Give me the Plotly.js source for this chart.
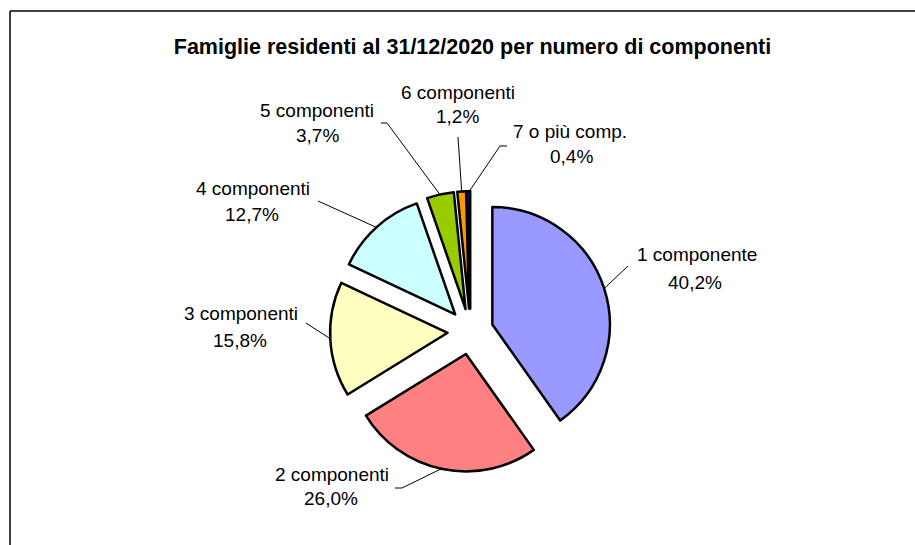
<!DOCTYPE html>
<html>
<head>
<meta charset="utf-8">
<script src="https://cdn.plot.ly/plotly-3.0.1.min.js"></script>
<style>html,body{margin:0;padding:0;background:#fff;}#chart{width:915px;height:545px;}</style>
</head>
<body>
<div id="chart"></div>
<script>
// ---- data ----
const categories = ['1 componente', '2 componenti', '3 componenti', '4 componenti', '5 componenti', '6 componenti', '7 o più comp.'];
const shares = [40.2, 26.0, 15.8, 12.7, 3.7, 1.2, 0.4];
const chartTitle = 'Famiglie residenti al 31/12/2020 per numero di componenti';

// ---- styling / layout constants ----
const W = 915, H = 545;
const sliceColors = ['#9999FF', '#FF8080', '#FFFFC0', '#CCFFFF', '#99CC00', '#FF9900', '#0066CC'];
const pieCx = 470.5, pieCy = 331.5, pieR = 117.5, pullFrac = 0.195;
const half = pieR * (1 + pullFrac);
const dom = {
  x: [(pieCx - half) / W, (pieCx + half) / W],
  y: [1 - (pieCy + half) / H, 1 - (pieCy - half) / H]
};
// label text centres (pixels): [name line, percent line]
const namePos = [[697, 254], [332, 474], [241, 313], [253, 188], [317, 110], [458, 92], [570, 131]];
const pctPos  = [[695, 282], [331, 498], [240, 340], [252, 214], [317, 135], [458, 117], [571, 157]];
// leader line elbows (pixels) after the slice point
const leaderTail = [
  [[628, 266]],
  [[402, 488], [395, 488]],
  [[306, 323]],
  [[318, 201]],
  [[387, 123], [381, 123]],
  [[458, 137]],
  [[500, 146], [507, 146]]
];

const px = x => x / W;
const py = y => 1 - y / H;
const fmtPct = v => v.toFixed(1).replace('.', ',') + '%';

const total = shares.reduce((a, b) => a + b, 0);
const annotations = [];
const shapes = [];
const labelFont = {family: 'Liberation Sans, Arial, sans-serif', size: 19, color: '#000'};
let cum = 0;
shares.forEach((v, i) => {
  const mid = (cum + v / 2) / total * 2 * Math.PI;
  cum += v;
  const dist = pieR * (1 + pullFrac) - 1;
  const sx = pieCx + dist * Math.sin(mid);
  const sy = pieCy - dist * Math.cos(mid);
  let path = 'M ' + px(sx) + ' ' + py(sy);
  leaderTail[i].forEach(p => { path += ' L ' + px(p[0]) + ' ' + py(p[1]); });
  shapes.push({type: 'path', xref: 'paper', yref: 'paper', path: path, line: {color: '#000', width: 1}});
  annotations.push({xref: 'paper', yref: 'paper', x: px(namePos[i][0]), y: py(namePos[i][1]),
    xanchor: 'center', yanchor: 'middle', showarrow: false, text: categories[i], font: labelFont});
  annotations.push({xref: 'paper', yref: 'paper', x: px(pctPos[i][0]), y: py(pctPos[i][1]),
    xanchor: 'center', yanchor: 'middle', showarrow: false, text: fmtPct(v), font: labelFont});
});

// frame (top and left edges visible)
shapes.push({type: 'line', xref: 'paper', yref: 'paper', x0: px(10), y0: py(11), x1: px(915), y1: py(11), line: {color: '#000', width: 1.5}});
shapes.push({type: 'line', xref: 'paper', yref: 'paper', x0: px(10), y0: py(11), x1: px(10), y1: py(545), line: {color: '#000', width: 1.5}});

const trace = {
  type: 'pie',
  labels: categories,
  values: shares,
  sort: false,
  direction: 'clockwise',
  rotation: 0,
  pull: shares.map(() => pullFrac),
  textinfo: 'none',
  hoverinfo: 'label+percent',
  showlegend: false,
  domain: dom,
  marker: {colors: sliceColors, line: {color: '#000', width: 2.5}}
};

const layout = {
  width: W, height: H,
  margin: {l: 0, r: 0, t: 0, b: 0},
  paper_bgcolor: '#fff',
  plot_bgcolor: '#fff',
  showlegend: false,
  title: {text: '<b>' + chartTitle + '</b>', x: 472.5 / W, y: 1 - 46 / H, xanchor: 'center', yanchor: 'middle',
    xref: 'paper', yref: 'container',
    font: {family: 'Liberation Sans, Arial, sans-serif', size: 21.5, color: '#000'}},
  shapes: shapes,
  annotations: annotations
};

Plotly.newPlot('chart', [trace], layout, {displayModeBar: false, staticPlot: true});
</script>
</body>
</html>
